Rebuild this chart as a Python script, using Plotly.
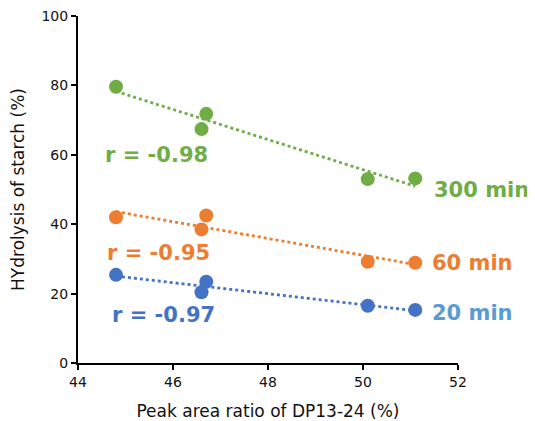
import numpy as np
import plotly.graph_objects as go

x_ratio = [44.8, 46.6, 46.7, 50.1, 51.1]
y_20 = [25.4, 20.4, 23.4, 16.5, 15.3]
y_60 = [42.0, 38.5, 42.5, 29.2, 28.9]
y_300 = [79.6, 67.4, 71.8, 53.0, 53.2]

series = [
    ("300 min", y_300, "#70AD47", "#70AD47", "r = -0.98", (44.53, 59.9), (51.45, 49.9)),
    ("60 min", y_60, "#ED7D31", "#ED7D31", "r = -0.95", (44.57, 31.6), (51.41, 28.7)),
    ("20 min", y_20, "#4472C4", "#5B9BD5", "r = -0.97", (44.67, 13.8), (51.41, 14.3)),
]

fig = go.Figure()
annotations = []
for name, ys, col, labcol, rtext, rpos, npos in series:
    k, b = np.polyfit(x_ratio, ys, 1)
    xs = [min(x_ratio), max(x_ratio)]
    fig.add_trace(go.Scatter(x=xs, y=[k * v + b for v in xs], mode="lines",
                             line=dict(color=col, width=2.8, dash="dot"),
                             showlegend=False, hoverinfo="skip"))
    fig.add_trace(go.Scatter(x=x_ratio, y=ys, mode="markers", name=name,
                             marker=dict(color=col, size=14), showlegend=False))
    annotations.append(dict(x=rpos[0], y=rpos[1], xref="x", yref="y", text=rtext,
                            showarrow=False, xanchor="left", yanchor="middle",
                            font=dict(family="DejaVu Sans", size=21, color=col, weight="bold")))
    annotations.append(dict(x=npos[0], y=npos[1], xref="x", yref="y", text=name,
                            showarrow=False, xanchor="left", yanchor="middle",
                            font=dict(family="DejaVu Sans", size=21, color=labcol, weight="bold")))

fig.update_layout(
    width=527, height=413,
    margin=dict(l=70, r=77, t=8, b=58),
    plot_bgcolor="white", paper_bgcolor="white",
    annotations=annotations,
    font=dict(family="DejaVu Sans", size=14, color="#111"),
)
fig.update_xaxes(range=[44, 52], tickvals=[44, 46, 48, 50, 52], showgrid=False,
                 showline=True, linecolor="black", linewidth=2, ticks="outside",
                 tickcolor="black", tickwidth=2, ticklen=5, zeroline=False,
                 automargin=False, ticklabeloverflow="allow",
                 title=dict(text="Peak area ratio of DP13-24 (%)", standoff=19))
fig.update_yaxes(range=[0, 100], tickvals=[0, 20, 40, 60, 80, 100], showgrid=False,
                 showline=True, linecolor="black", linewidth=2, ticks="outside",
                 tickcolor="black", tickwidth=2, ticklen=5, zeroline=False,
                 automargin=False, ticklabeloverflow="allow",
                 title=dict(text="HYdrolysis of starch (%)", standoff=18))
fig.write_html("out.html")
